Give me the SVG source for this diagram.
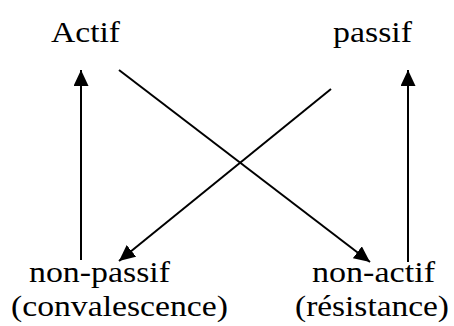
<svg xmlns="http://www.w3.org/2000/svg" width="454" height="326" viewBox="0 0 454 326">
  <style>
    text { font-family: 'Liberation Serif', 'DejaVu Serif', serif; font-size: 30px; fill: #000; }
    .edge { stroke: #000; stroke-width: 2; fill: none; marker-end: url(#head); }
  </style>
  <defs>
    <marker id="head" markerUnits="userSpaceOnUse" markerWidth="18" markerHeight="16" refX="16" refY="7.5" orient="auto">
      <path d="M0,0 L16,7.5 L0,15 Z" fill="#000"/>
    </marker>
  </defs>
  <rect width="454" height="326" fill="#fff"/>

  <!-- connectors -->
  <g id="edges">
    <line class="edge" x1="81" y1="260" x2="81" y2="70"/>
    <line class="edge" x1="408" y1="262" x2="408" y2="70"/>
    <line class="edge" x1="119" y1="70" x2="370" y2="262"/>
    <line class="edge" x1="331" y1="89" x2="119" y2="261"/>
  </g>

  <!-- labels, fitted to fixed widths -->
  <g id="actif"><text x="51" y="42" textLength="69" lengthAdjust="spacingAndGlyphs">Actif</text></g>
  <g id="passif"><text x="333" y="42" textLength="79" lengthAdjust="spacingAndGlyphs">passif</text></g>
  <g id="non-passif">
    <text x="29" y="282" textLength="141" lengthAdjust="spacingAndGlyphs">non-passif</text>
    <text x="11" y="316" textLength="217" lengthAdjust="spacingAndGlyphs">(convalescence)</text>
  </g>
  <g id="non-actif">
    <text x="312" y="282" textLength="123" lengthAdjust="spacingAndGlyphs">non-actif</text>
    <text x="295" y="316" textLength="154" lengthAdjust="spacingAndGlyphs">(résistance)</text>
  </g>
</svg>
